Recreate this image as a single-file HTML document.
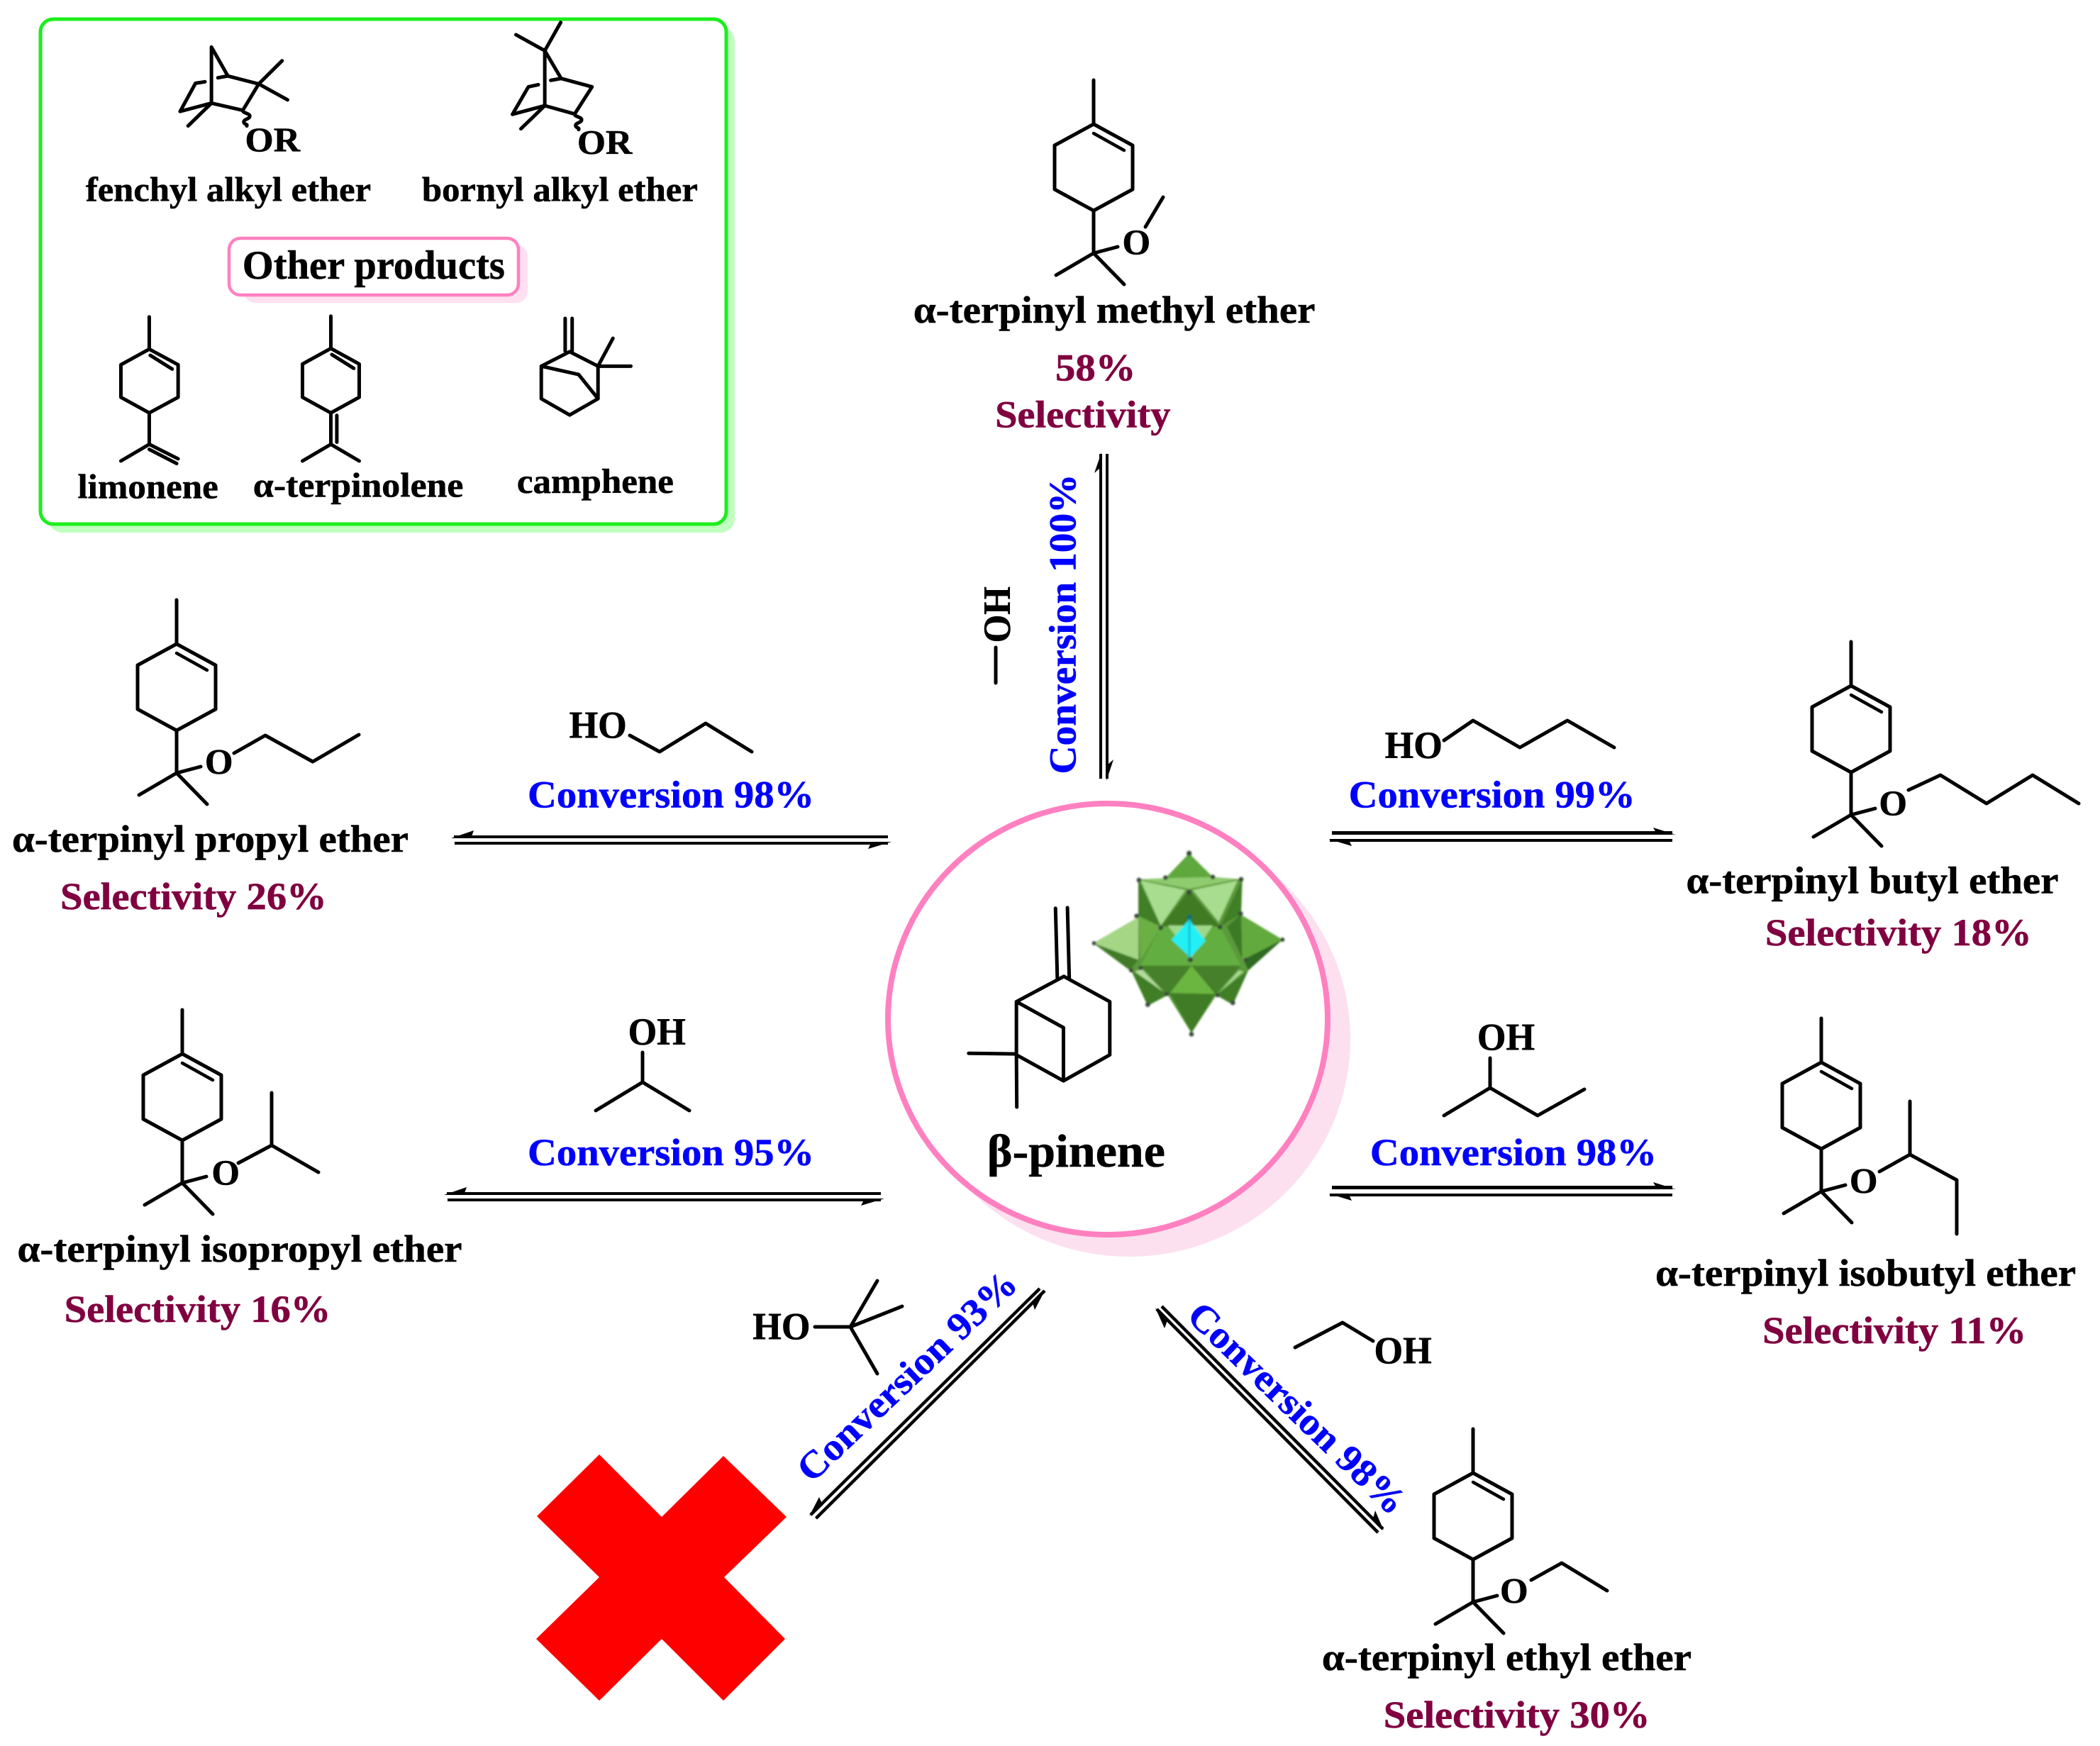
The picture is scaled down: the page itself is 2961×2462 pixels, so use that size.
<!DOCTYPE html>
<html><head><meta charset="utf-8"><style>
html,body{margin:0;padding:0;background:#fff}
svg{display:block}
text{font-family:"Liberation Serif",serif;font-weight:700;font-size:28.5px;fill:#000;stroke:#000;stroke-width:.3px}
text.b{fill:#0000ff;stroke:#0000ff}
text.m{fill:#800040;stroke:#800040}
text.o{font-size:27px}
text.i{font-size:26px}
.bond{fill:none;stroke:#000;stroke-width:5;stroke-linejoin:round;stroke-linecap:round}
.ns{fill:none;stroke:#000;stroke-width:5;stroke-linejoin:round;stroke-linecap:round}
.ns *{vector-effect:non-scaling-stroke}
</style></head><body>
<svg xmlns="http://www.w3.org/2000/svg" width="2961" height="2462" viewBox="0 0 2961 2462">
<defs>
<g id="sk" class="bond">
<path d="M0,-62V0L55,30V92L0,122L-55,92V30L0,0"/>
<path d="M0,13L43,37" stroke-width="4.5"/>
<path d="M0,122V182M0,182L-53,213M0,182L43,226M0,182L34,173"/>
</g>
<filter id="soft" x="-5%" y="-5%" width="110%" height="110%"><feGaussianBlur stdDeviation="4"/></filter>
</defs>
<rect width="2961" height="2462" fill="#fff"/>

<!-- inset -->
<rect x="68" y="38" width="968" height="713" rx="20" fill="#c0ffc0"/>
<rect x="57" y="27" width="967" height="712" rx="18" fill="#fff" stroke="#1cee1c" stroke-width="5"/>
<rect x="344" y="345" width="400" height="82" rx="16" fill="#ffe0f0"/>
<rect x="323" y="336" width="408" height="80" rx="16" fill="#fff" stroke="#ff80c0" stroke-width="4.5"/>

<g transform="scale(0.7015,0.5102)" class="ns">
<path d="M425,285V130L458,210L520,232L488,305L425,285L362,308L393,230L412,226M458,210L438,215M425,285L378,348M520,232L567,168M520,232L578,276M488,305c0,8 14,8 14,16s-12,8 -12,16s8,4 6,11"/>
<path d="M1037,96L1095,140L1127,62M1095,140V292M1095,140L1128,217L1190,240L1155,315L1095,292L1030,316L1062,240L1082,234M1128,217L1107,222M1095,292L1047,356M1155,315c0,8 14,8 14,16s-12,8 -12,16s8,4 6,11"/>
<path d="M300,876V965L358,1008V1098L300,1141L243,1098V1008L300,965M302,982L346,1020M300,1141V1228L243,1274M300,1228L358,1268M300,1242L355,1281"/>
<path d="M665,874V963L722,1006V1098L665,1141L608,1098V1006L665,963M667,980L711,1018M665,1141V1228L608,1274M665,1228L722,1274M677,1148V1222"/>
<path d="M1136,880V970M1150,880V970M1145,972L1202,1012V1102L1145,1147L1088,1102V1012L1145,972M1088,1012L1163,1035L1202,1102M1202,1012L1232,935M1202,1012H1268"/>
</g>

<!-- centre circle -->
<ellipse cx="1592" cy="1465" rx="312" ry="307" fill="#fde0ef"/>
<ellipse cx="1562" cy="1437" rx="310" ry="304" fill="#fff" stroke="#ff80c0" stroke-width="8"/>

<!-- beta-pinene -->
<g transform="translate(1200,1100) scale(0.5102,0.4464)" class="ns">
<path d="M565,405L570,625M598,403L603,625M588,620L715,700V868L587,950L457,868V700L588,620M457,700L587,782V950M457,868L458,1033M457,865L325,863"/>
</g>
<!-- polyoxometalate -->
<g transform="translate(1530,1190) scale(0.3333)" filter="url(#soft)">
<polygon points="35,420 225,310 225,150 340,145 440,40 540,140 660,150 660,300 835,405 690,535 625,680 555,640 450,800 350,640 265,685 195,535" fill="#5a9a3a"/>
<polygon points="35,420 225,310 225,490" fill="#a4d686"/>
<polygon points="35,420 225,490 190,535" fill="#3f7a28"/>
<polygon points="835,405 660,300 665,490" fill="#62aa3c"/>
<polygon points="835,405 670,490 690,535" fill="#2f6a20"/>
<polygon points="600,350 660,295 665,485" fill="#3d7a28"/>
<polygon points="440,40 340,145 540,140" fill="#5fa83c"/>
<polygon points="340,145 540,140 640,150 440,190 235,150" fill="#8fcc70"/>
<polygon points="235,155 425,195 320,345" fill="#a8dc8e"/>
<polygon points="455,195 645,155 565,330" fill="#a8dc8e"/>
<polygon points="225,150 320,350 225,305" fill="#3f7f28"/>
<polygon points="665,150 570,350 660,295" fill="#3f7f28"/>
<polygon points="440,195 320,350 570,350" fill="#3f7a20"/>
<polygon points="225,305 320,350 235,490" fill="#6ab044"/>
<polygon points="320,350 570,350 660,515 235,515" fill="#64ae40"/>
<polygon points="350,345 540,345 450,480" fill="#a0d88a"/>
<polygon points="440,320 510,410 445,480 365,405" fill="#20f0f4"/>
<polygon points="235,515 660,515 550,640 350,640" fill="#47802c"/>
<polygon points="450,515 550,635 360,630" fill="#6ab63f"/>
<polygon points="360,635 550,635 450,800" fill="#3f7c25"/>
<polygon points="195,535 350,635 265,685" fill="#3f7e28"/>
<polygon points="210,540 240,530 330,625" fill="#b4dc9c"/>
<polygon points="690,535 555,640 625,680" fill="#3f7e28"/>
<polygon points="670,540 650,535 570,625" fill="#a8d890"/>
<g fill="#3c4a3c">
<circle cx="440" cy="40" r="11"/><circle cx="340" cy="143" r="10"/><circle cx="540" cy="140" r="10"/>
<circle cx="228" cy="153" r="10"/><circle cx="660" cy="150" r="10"/><circle cx="440" cy="205" r="11"/>
<circle cx="218" cy="305" r="10"/><circle cx="658" cy="295" r="10"/><circle cx="320" cy="355" r="10"/>
<circle cx="570" cy="352" r="10"/><circle cx="38" cy="420" r="9"/><circle cx="835" cy="405" r="9"/>
<circle cx="445" cy="490" r="11"/><circle cx="235" cy="525" r="9"/><circle cx="680" cy="490" r="9"/>
<circle cx="265" cy="680" r="10"/><circle cx="625" cy="672" r="10"/><circle cx="450" cy="805" r="10"/>
<circle cx="345" cy="635" r="9"/><circle cx="560" cy="640" r="9"/><circle cx="195" cy="535" r="9"/>
</g>
<circle cx="442" cy="310" r="11" fill="#0d6f70"/>
<rect x="436" y="320" width="10" height="160" fill="#14c8dc"/>
</g>

<!-- products skeletons -->
<use href="#sk" x="1542" y="175"/>
<use href="#sk" x="249" y="908"/>
<use href="#sk" x="2610" y="967"/>
<use href="#sk" x="257" y="1486"/>
<use href="#sk" x="2568" y="1498"/>
<use href="#sk" x="2077" y="2077"/>
<g class="bond">
<path d="M1615,320L1640,278"/>
<path d="M330,1062L374,1037L441,1074L506,1036"/>
<path d="M2691,1114L2736,1093L2801,1133L2866,1093L2931,1133"/>
<path d="M336,1640L383,1615M383,1541V1615L449,1653"/>
<path d="M2650,1652L2693,1628M2693,1553V1628L2759,1664V1740"/>
<path d="M2159,2228L2202,2204L2266,2243"/>
<!-- reagents -->
<path d="M1404,913V963"/>
<path d="M888,1037L930,1060L995,1020L1060,1060"/>
<path d="M2036,1044L2077,1016L2143,1054L2210,1016L2276,1054"/>
<path d="M840,1566L906,1526L972,1566M906,1526V1484"/>
<path d="M2036,1573L2101,1534L2168,1573L2234,1536M2101,1534V1492"/>
<path d="M1149,1871H1199L1237,1806M1199,1871L1272,1842M1199,1871L1237,1937"/>
<path d="M1826,1900L1893,1865L1936,1891"/>
</g>

<!-- arrows -->
<g fill="#000" stroke="none">
<rect x="640" y="1178" width="612" height="4"/><rect x="641" y="1187" width="611" height="4"/>
<polygon points="636,1182 668,1171 664,1182"/><polygon points="1257,1187 1224,1197 1229,1187"/>
<rect x="630" y="1681" width="612" height="4"/><rect x="631" y="1690" width="611" height="4"/>
<polygon points="626,1685 658,1674 654,1685"/><polygon points="1247,1690 1214,1700 1219,1690"/>
<rect x="1878" y="1172" width="480" height="5"/><rect x="1875" y="1183" width="483" height="4"/>
<polygon points="2363,1177 2331,1167 2335,1174"/><polygon points="1873,1183 1906,1193 1902,1185"/>
<rect x="1878" y="1672" width="480" height="5"/><rect x="1875" y="1683" width="483" height="4"/>
<polygon points="2363,1677 2331,1667 2335,1674"/><polygon points="1873,1683 1906,1693 1902,1685"/>
<rect x="1550" y="640" width="4" height="458"/><rect x="1559" y="640" width="4" height="458"/>
<polygon points="1553,638 1543,667 1551,660"/><polygon points="1560,1101 1570,1071 1562,1078"/>
<polygon points="1141,2138 1155,2111 1159,2120"/>
<polygon points="1473,1820 1459,1847 1456,1837"/>
<polygon points="1951,2158 1939,2130 1936,2141"/>
<polygon points="1629,1844 1642,1873 1646,1862"/>
</g>
<g fill="none" stroke="#000" stroke-width="4.5">
<path d="M1466,1817L1143,2136M1473,1820L1150.5,2141"/>
<path d="M1638,1842L1950,2156M1631,1846L1943,2161"/>
</g>

<!-- red X -->
<polygon fill="#ff0000" points="757,2138 845,2051 933,2139 1020,2053 1109,2139 1021,2224 1107,2311 1020,2398 933,2311 845,2398 756,2311 845,2224"/>

<!-- text (coordinates in scaled units) -->
<g transform="scale(1.8884)">
<text class="i" x="183" y="113" textLength="41" lengthAdjust="spacingAndGlyphs">OR</text>
<text class="i" x="431" y="115" textLength="41" lengthAdjust="spacingAndGlyphs">OR</text>
<text class="i" x="64" y="150" textLength="213" lengthAdjust="spacingAndGlyphs">fenchyl alkyl ether</text>
<text class="i" x="315" y="150" textLength="206" lengthAdjust="spacingAndGlyphs">bornyl alkyl ether</text>
<text x="181" y="208" style="font-size:30px" textLength="196" lengthAdjust="spacingAndGlyphs">Other products</text>
<text class="i" x="58" y="372" textLength="105" lengthAdjust="spacingAndGlyphs">limonene</text>
<text class="i" x="189" y="371" textLength="157" lengthAdjust="spacingAndGlyphs">α-terpinolene</text>
<text class="i" x="386" y="368" textLength="117" lengthAdjust="spacingAndGlyphs">camphene</text>

<text x="682" y="241" textLength="300" lengthAdjust="spacingAndGlyphs">α-terpinyl methyl ether</text>
<text class="m" x="788" y="284" textLength="60" lengthAdjust="spacingAndGlyphs">58%</text>
<text class="m" x="743" y="319" textLength="131" lengthAdjust="spacingAndGlyphs">Selectivity</text>
<text class="o" x="838" y="190">O</text>

<text x="425" y="551" textLength="43" lengthAdjust="spacingAndGlyphs">HO</text>
<text class="b" x="394" y="603" textLength="214" lengthAdjust="spacingAndGlyphs">Conversion 98%</text>
<text x="9" y="636" textLength="296" lengthAdjust="spacingAndGlyphs">α-terpinyl propyl ether</text>
<text class="m" x="45" y="679" textLength="199" lengthAdjust="spacingAndGlyphs">Selectivity 26%</text>
<text class="o" x="153" y="578">O</text>

<text x="1034" y="566" textLength="43" lengthAdjust="spacingAndGlyphs">HO</text>
<text class="b" x="1007" y="603" textLength="214" lengthAdjust="spacingAndGlyphs">Conversion 99%</text>
<text x="1259" y="667" textLength="278" lengthAdjust="spacingAndGlyphs">α-terpinyl butyl ether</text>
<text class="m" x="1318" y="706" textLength="199" lengthAdjust="spacingAndGlyphs">Selectivity 18%</text>
<text class="o" x="1403" y="609">O</text>

<text x="469" y="780" textLength="43" lengthAdjust="spacingAndGlyphs">OH</text>
<text class="b" x="394" y="870" textLength="214" lengthAdjust="spacingAndGlyphs">Conversion 95%</text>
<text x="13" y="942" textLength="332" lengthAdjust="spacingAndGlyphs">α-terpinyl isopropyl ether</text>
<text class="m" x="48" y="987" textLength="199" lengthAdjust="spacingAndGlyphs">Selectivity 16%</text>
<text class="o" x="158" y="885">O</text>

<text x="1103" y="784" textLength="43" lengthAdjust="spacingAndGlyphs">OH</text>
<text class="b" x="1023" y="870" textLength="214" lengthAdjust="spacingAndGlyphs">Conversion 98%</text>
<text x="1236" y="960" textLength="314" lengthAdjust="spacingAndGlyphs">α-terpinyl isobutyl ether</text>
<text class="m" x="1316" y="1003" textLength="197" lengthAdjust="spacingAndGlyphs">Selectivity 11%</text>
<text class="o" x="1381" y="891">O</text>

<text x="562" y="1000" textLength="43" lengthAdjust="spacingAndGlyphs">HO</text>
<text x="1026" y="1018" textLength="43" lengthAdjust="spacingAndGlyphs">OH</text>
<text x="987" y="1247" textLength="276" lengthAdjust="spacingAndGlyphs">α-terpinyl ethyl ether</text>
<text class="m" x="1033" y="1290" textLength="199" lengthAdjust="spacingAndGlyphs">Selectivity 30%</text>
<text class="o" x="1120" y="1197">O</text>

<text x="737" y="871" style="font-size:35px" textLength="133" lengthAdjust="spacingAndGlyphs">β-pinene</text>

<text class="b" transform="translate(803,578) rotate(-90)" textLength="224" lengthAdjust="spacingAndGlyphs">Conversion 100%</text>
<text transform="translate(754,480) rotate(-90)" textLength="42" lengthAdjust="spacingAndGlyphs">OH</text>
<text class="b" transform="translate(606,1108) rotate(-43.5)" textLength="214" lengthAdjust="spacingAndGlyphs">Conversion 93%</text>
<text class="b" transform="translate(885,984) rotate(44)" textLength="214" lengthAdjust="spacingAndGlyphs">Conversion 98%</text>
</g>
</svg>
</body></html>
